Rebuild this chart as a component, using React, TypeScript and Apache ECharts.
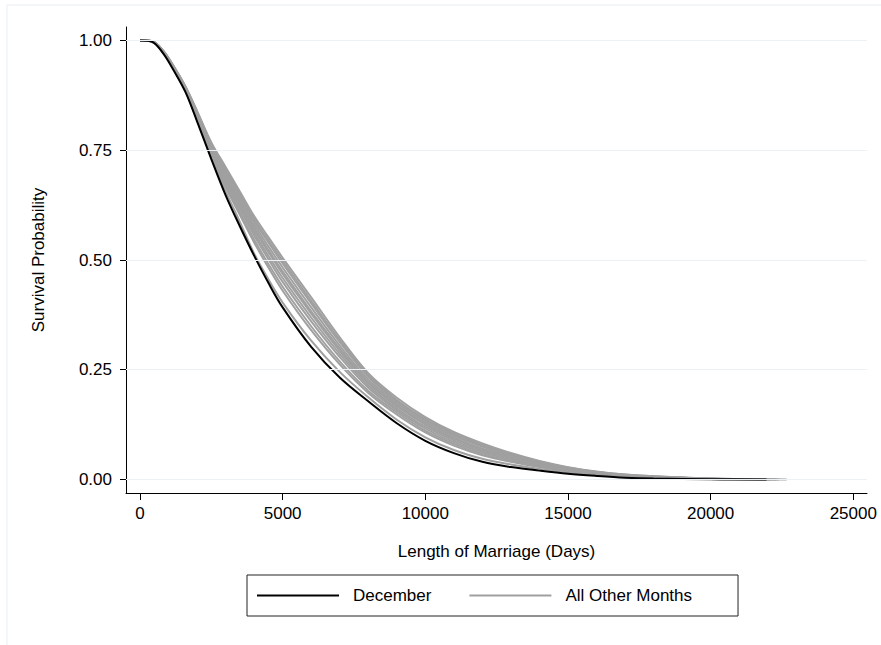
import React, { useEffect, useRef } from "react";
import * as echarts from "echarts";

// Analysis days (grid shared by every curve)
const days = [0, 400, 800, 1200, 1600, 2000, 2500, 3000, 3500, 4000, 4500, 5000, 6000, 7000, 8000, 9000, 10000, 11000, 12000, 13000, 14000, 15000, 16000, 17000, 18000, 20000];

// December survival estimate
const december = [1, 0.998, 0.972, 0.93, 0.882, 0.816, 0.73, 0.648, 0.577, 0.51, 0.448, 0.392, 0.302, 0.232, 0.178, 0.128, 0.088, 0.06, 0.04, 0.028, 0.02, 0.013, 0.008, 0.004, 0.002, 0.0005];
const decemberEnd = 21960;

// All other months (one survival curve each)
const january = [1, 0.998, 0.974, 0.934, 0.886, 0.822, 0.742, 0.667, 0.603, 0.54, 0.483, 0.43, 0.34, 0.262, 0.197, 0.148, 0.107, 0.077, 0.055, 0.04, 0.028, 0.019, 0.012, 0.007, 0.004, 0.001];
const february = [1, 0.998, 0.974, 0.935, 0.887, 0.824, 0.745, 0.672, 0.609, 0.547, 0.491, 0.439, 0.349, 0.269, 0.202, 0.153, 0.111, 0.081, 0.058, 0.042, 0.03, 0.02, 0.013, 0.007, 0.004, 0.001];
const march = [1, 0.998, 0.975, 0.936, 0.888, 0.827, 0.749, 0.679, 0.617, 0.556, 0.502, 0.45, 0.36, 0.279, 0.209, 0.158, 0.116, 0.085, 0.062, 0.045, 0.032, 0.021, 0.014, 0.008, 0.005, 0.001];
const april = [1, 0.998, 0.976, 0.936, 0.889, 0.829, 0.752, 0.684, 0.623, 0.563, 0.509, 0.459, 0.369, 0.286, 0.214, 0.162, 0.12, 0.089, 0.065, 0.048, 0.033, 0.022, 0.014, 0.009, 0.005, 0.001];
const may = [1, 0.999, 0.976, 0.937, 0.89, 0.831, 0.755, 0.69, 0.63, 0.57, 0.518, 0.468, 0.378, 0.293, 0.219, 0.167, 0.125, 0.093, 0.068, 0.05, 0.035, 0.024, 0.015, 0.009, 0.0055, 0.0015];
const june = [1, 0.999, 0.976, 0.937, 0.891, 0.832, 0.757, 0.693, 0.634, 0.575, 0.523, 0.474, 0.383, 0.298, 0.223, 0.17, 0.127, 0.095, 0.07, 0.052, 0.036, 0.024, 0.015, 0.009, 0.006, 0.0016];
const july = [1, 0.999, 0.977, 0.938, 0.892, 0.835, 0.76, 0.698, 0.64, 0.582, 0.531, 0.483, 0.392, 0.305, 0.228, 0.174, 0.131, 0.099, 0.074, 0.054, 0.038, 0.025, 0.016, 0.01, 0.006, 0.0017];
const august = [1, 0.999, 0.977, 0.939, 0.893, 0.837, 0.763, 0.704, 0.646, 0.589, 0.54, 0.492, 0.401, 0.313, 0.234, 0.178, 0.135, 0.102, 0.077, 0.056, 0.039, 0.026, 0.017, 0.01, 0.0065, 0.0018];
const september = [1, 0.999, 0.978, 0.939, 0.894, 0.838, 0.765, 0.707, 0.651, 0.594, 0.545, 0.498, 0.407, 0.318, 0.238, 0.181, 0.138, 0.105, 0.079, 0.058, 0.041, 0.027, 0.017, 0.011, 0.007, 0.0019];
const october = [1, 0.999, 0.978, 0.94, 0.895, 0.84, 0.768, 0.712, 0.656, 0.6, 0.552, 0.505, 0.415, 0.324, 0.242, 0.186, 0.142, 0.108, 0.082, 0.06, 0.042, 0.028, 0.018, 0.011, 0.007, 0.002];
const november = [1, 0.998, 0.973, 0.932, 0.884, 0.819, 0.736, 0.657, 0.587, 0.515, 0.456, 0.403, 0.316, 0.245, 0.187, 0.136, 0.096, 0.067, 0.047, 0.034, 0.024, 0.016, 0.01, 0.006, 0.003, 0.001];
const otherMonths = [january, february, march, april, may, june, july, august, september, october, november];
const otherEnds = [21300, 20800, 22100, 21500, 22660, 20500, 21800, 22300, 21000, 22400, 21700];

// Tick labels
const xTicks = [0, 5000, 10000, 15000, 20000, 25000];
const yTicks = [0, 0.25, 0.5, 0.75, 1];

const legendNames = ["December", "All Other Months"];

const FONT = "'Liberation Sans', Arial, Helvetica, sans-serif";

function toPairs(vals: number[], end: number) {
  const pts: number[][] = days.map((d, i) => [d, vals[i]]);
  pts.push([end, 0]);
  return pts;
}

export default function App() {
  const ref = useRef<HTMLDivElement>(null);
  useEffect(() => {
    if (!ref.current) return;
    const chart = echarts.init(ref.current, null, { renderer: "svg" });
    const grayColor = "#a0a0a0";
    const series: any[] = [
      {
        type: "line",
        name: "__grid",
        data: [],
        z: 0,
        silent: true,
        markLine: {
          silent: true,
          symbol: ["none", "none"],
          label: { show: false },
          lineStyle: { color: "#eaf2f3", type: "solid", width: 1 },
          data: yTicks.map((v) => ({ yAxis: v })),
        },
      },
    ];
    otherMonths.forEach((m, i) => {
      series.push({
        type: "line",
        name: legendNames[1],
        data: toPairs(m, otherEnds[i]),
        symbol: "none",
        smooth: 0.35,
        z: 2,
        lineStyle: { color: grayColor, width: 2 },
        itemStyle: { color: grayColor },
      });
    });
    series.push({
      type: "line",
      name: legendNames[0],
      data: toPairs(december, decemberEnd),
      symbol: "none",
      smooth: 0.35,
      z: 3,
      lineStyle: { color: "#000000", width: 2 },
      itemStyle: { color: "#000000" },
    });

    chart.setOption({
      animation: false,
      backgroundColor: "#ffffff",
      textStyle: { fontFamily: FONT },
      graphic: [
        {
          type: "rect",
          silent: true,
          z: -10,
          shape: { x: 7, y: 5, width: 900, height: 700 },
          style: { fill: "none", stroke: "#e9eff2", lineWidth: 1 },
        },
      ],
      grid: { left: 126, top: 27, right: 14, bottom: 152, containLabel: false },
      legend: {
        data: legendNames.map((n) => ({ name: n, icon: "rect" })),
        left: 247,
        top: 575,
        orient: "horizontal",
        padding: [12, 46, 12, 10],
        itemWidth: 82,
        itemHeight: 2,
        itemGap: 38,
        borderColor: "#222222",
        borderWidth: 1,
        borderRadius: 0,
        selectedMode: false,
        textStyle: { fontSize: 17, color: "#000", fontFamily: FONT, padding: [0, 0, 0, 9] },
      },
      xAxis: {
        type: "value",
        min: -490,
        max: 25480,
        name: "Length of Marriage (Days)",
        nameLocation: "middle",
        nameGap: 50,
        nameTextStyle: { fontSize: 17, color: "#000", fontFamily: FONT },
        axisLine: { show: true, onZero: false, lineStyle: { color: "#000", width: 1 } },
        axisTick: { show: true, length: 7, lineStyle: { color: "#000" }, customValues: xTicks },
        axisLabel: { fontSize: 17, color: "#000", margin: 12, customValues: xTicks, formatter: (v: number) => String(v) },
        splitLine: { show: false },
      },
      yAxis: {
        type: "value",
        min: -0.031,
        max: 1.031,
        name: "Survival Probability",
        nameLocation: "middle",
        nameGap: 79,
        nameTextStyle: { fontSize: 17, color: "#000", fontFamily: FONT },
        axisLine: { show: true, onZero: false, lineStyle: { color: "#000", width: 1 } },
        axisTick: { show: true, length: 6, lineStyle: { color: "#000" }, customValues: yTicks },
        axisLabel: { fontSize: 17, color: "#000", margin: 14, customValues: yTicks, formatter: (v: number) => v.toFixed(2) },
        splitLine: { show: false },
      },
      series,
    });
    return () => chart.dispose();
  }, []);
  return <div ref={ref} style={{ position: "fixed", left: 0, top: 0, width: 881, height: 645 }} />;
}
